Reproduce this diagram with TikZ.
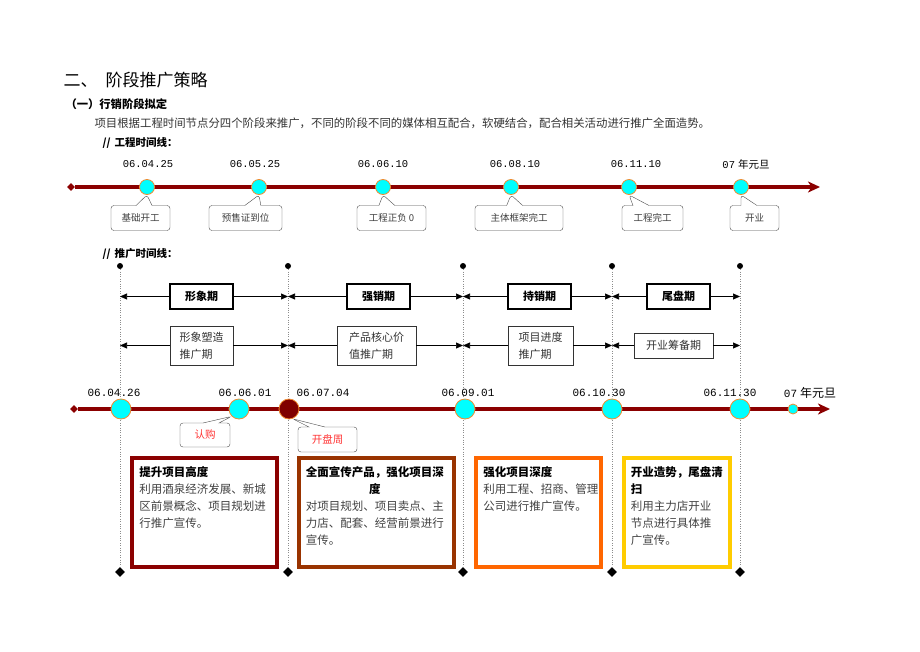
\documentclass[tikz,border=0pt]{standalone}
\usepackage{fontspec}
\setmainfont{Liberation Serif}
\newfontfamily\cjk{Noto Sans CJK SC}
\newfontfamily\datefont{Liberation Mono}
\usetikzlibrary{arrows.meta,shapes.geometric,shapes.callouts}

\definecolor{lineRed}{RGB}{139,0,0}
\definecolor{dotCyan}{RGB}{0,255,255}
\definecolor{dotRim}{RGB}{240,140,50}
\definecolor{openRed}{RGB}{128,0,0}
\definecolor{boxA}{RGB}{139,0,0}
\definecolor{boxB}{RGB}{153,51,0}
\definecolor{boxC}{RGB}{255,102,0}
\definecolor{boxD}{RGB}{255,204,0}
\definecolor{noteRed}{RGB}{255,51,51}

\begin{document}
\begin{tikzpicture}[x=1pt,y=-1pt,font=\cjk,
	tline/.style={line width=3.3pt,draw=lineRed,-{Stealth[length=12pt,width=11pt,inset=3.5pt]}},
	tstart/.style={diamond,fill=lineRed,inner sep=0pt,minimum size=8pt},
	tdot/.style={circle,fill=dotCyan,draw=dotRim,line width=0.8pt,inner sep=0pt,minimum size=#1},
	tdate/.style={font=\datefont\fontsize{#1}{#1}\selectfont},
	tcall/.style={rectangle callout,draw=black!70,fill=white,rounded corners=3pt,
		callout pointer width=16pt,inner xsep=2pt,minimum height=25pt,text=black!75,
		font=\cjk\fontsize{9.5}{11}\selectfont},
	pdot/.style={circle,fill=black,inner sep=0pt,minimum size=6pt},
	pend/.style={diamond,fill=black,inner sep=0pt,minimum size=10pt},
	pguide/.style={draw=black!45,dotted},
	phase/.style={draw,line width=1.3pt,minimum height=25pt,inner sep=0pt,
		font=\cjk\bfseries\fontsize{11}{13}\selectfont},
	theme/.style={draw=black!80,line width=0.6pt,inner xsep=0pt,inner ysep=6pt,minimum height=25pt,
		align=left,text=black!80,font=\cjk\fontsize{11}{17}\selectfont},
	parr/.style={line width=0.7pt,-{Triangle[length=7pt,width=6pt]}},
	frame/.style={draw=#1,line width=3.5pt,inner sep=0pt},
	ftext/.style={anchor=north west,inner sep=0pt,align=left,text=black!75,
		font=\cjk\fontsize{11.5}{17}\selectfont}]

	\useasboundingbox (0,0) rectangle (920,651);

	% headings
	\node[anchor=west,font=\cjk\fontsize{17}{18}\selectfont] (title) at (60,80) {二、\hspace{8pt}阶段推广策略};
	\node[anchor=west,font=\cjk\bfseries\fontsize{11.3}{13}\selectfont] (sub) at (62,104) {（一）行销阶段拟定};
	\node[anchor=west,text=black!80,font=\cjk\fontsize{11.4}{13}\selectfont] (intro) at (91,123)
		{项目根据工程时间节点分四个阶段来推广，不同的阶段不同的媒体相互配合，软硬结合，配合相关活动进行推广全面造势。};
	\node[anchor=west,font=\cjk\bfseries\fontsize{10.5}{12}\selectfont] (lineA) at (99,143) {//\hspace{4pt}工程时间线：};
	\node[anchor=west,font=\cjk\bfseries\fontsize{10.5}{12}\selectfont] (lineB) at (99,254) {//\hspace{4pt}推广时间线：};

	% works timeline
	\node[tstart] (t0) at (71,187) {};
	\coordinate (tend) at (820,187);
	\draw[tline] (t0) -- (tend);
	\foreach \n/\x/\lx/\d in {a/147/148/06.04.25, b/259/255/06.05.25, c/383/383/06.06.10,
			d/511/515/06.08.10, e/629/636/06.11.10, f/741/746/{07{\cjk\hspace{3pt}年元旦}}}{
		\node[tdot=15pt] (t\n) at (\x,187) {};
		\node[tdate=10.5] (td\n) at (\lx,164) {\d};
	}
	\foreach \n/\x/\w/\s in {a/140.5/59/基础开工, b/245.5/73/预售证到位, c/391.5/69/工程正负 0,
			d/519/88/主体框架完工, e/652.5/61/工程完工, f/754.5/49/开业}
		\node[tcall,minimum width=\w pt,callout absolute pointer={(t\n.south)}] (c\n) at (\x,218) {\s};

	% phase guides
	\foreach \i/\x in {0/120,1/288,2/463,3/612,4/740}{
		\node[pdot] (p\i) at (\x,266) {};
		\node[pend] (q\i) at (\x,572) {};
		\draw[pguide] (p\i) -- (q\i);
	}

	% phases
	\foreach \n/\x/\w/\l/\r/\s in {s1/201.5/63/p0/p1/形象期, s2/378.5/63/p1/p2/强销期,
			s3/539.5/63/p2/p3/持销期, s4/678.5/63/p3/p4/尾盘期}{
		\node[phase,minimum width=\w pt] (\n) at (\x,296.5) {\s};
		\draw[parr] (\n.west) -- (\l |- \n.west);
		\draw[parr] (\n.east) -- (\r |- \n.east);
	}
	\foreach \n/\x/\y/\w/\l/\r/\s in {r1/201.5/345.5/63/p0/p1/{形象塑造\\推广期},
			r2/376.5/345.5/79/p1/p2/{产品核心价\\值推广期}, r3/540.5/345.5/65/p2/p3/{项目进度\\推广期},
			r4/673.5/345.5/79/p3/p4/{开业筹备期}}{
		\node[theme,minimum width=\w pt] (\n) at (\x,\y) {\s};
		\draw[parr] (\n.west) -- (\l |- \n.west);
		\draw[parr] (\n.east) -- (\r |- \n.east);
	}

	% promotion timeline
	\node[tstart] (m0) at (74,409) {};
	\coordinate (mend) at (830,409);
	\draw[tline] (m0) -- (mend);
	\foreach \n/\x/\s in {1/121/20pt, 2/239/20pt, 4/465/20pt, 5/612/20pt, 6/740/20pt, 7/793/10pt}
		\node[tdot=\s] (m\n) at (\x,409) {};
	\node[tdot=20pt,fill=openRed] (m3) at (289,409) {};
	\foreach \n/\x/\d in {1/114/06.04.26, 2/245/06.06.01, 3/323/06.07.04, 4/468/06.09.01,
			5/599/06.10.30, 6/730/06.11.30, 7/810/{07{\cjk\fontsize{12}{12}\selectfont\hspace{3pt}年元旦}}}
		\node[tdate=11] (md\n) at (\x,393) {\d};
	\node[tcall,text=noteRed,minimum width=50pt,minimum height=24pt,font=\cjk\fontsize{10.5}{12}\selectfont,
		callout absolute pointer={(m2.south west)}] (buy) at (205,435) {认购};
	\node[tcall,text=noteRed,minimum width=59pt,font=\cjk\fontsize{10.5}{12}\selectfont,
		callout absolute pointer={(m3.290)}] (open) at (327.5,439.5) {开盘周};

	% phase notes
	\node[frame=boxA,minimum width=145pt,minimum height=109pt] (k1) at (204.5,512.5) {};
	\node[frame=boxB,minimum width=155pt,minimum height=109pt] (k2) at (376.5,512.5) {};
	\node[frame=boxC,minimum width=125pt,minimum height=109pt] (k3) at (538.5,512.5) {};
	\node[frame=boxD,minimum width=106pt,minimum height=109pt] (k4) at (677,512.5) {};

	\node[ftext,text width=130pt] (k1t) at ([shift={(9,10)}]k1.north west)
		{\textbf{\color{black}提升项目高度}\\利用酒泉经济发展、新城\\区前景概念、项目规划进\\行推广宣传。};
	\node[ftext,text width=138pt] (k2t) at ([shift={(8.5,10)}]k2.north west)
		{{\centering\bfseries\color{black}全面宣传产品，强化项目深\\度\par}
		\raggedright 对项目规划、项目卖点、主\\力店、配套、经营前景进行\\宣传。};
	\node[ftext,text width=115pt] (k3t) at ([shift={(9,10)}]k3.north west)
		{\textbf{\color{black}强化项目深度}\\利用工程、招商、管理\\公司进行推广宣传。};
	\node[ftext,text width=95pt] (k4t) at ([shift={(8.5,10)}]k4.north west)
		{\textbf{\color{black}开业造势，尾盘清}\\\textbf{\color{black}扫}\\利用主力店开业\\节点进行具体推\\广宣传。};
\end{tikzpicture}
\end{document}
